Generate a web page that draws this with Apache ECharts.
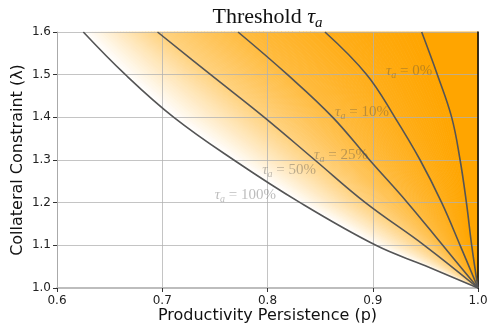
<!DOCTYPE html>
<html>
<head>
<meta charset="utf-8">
<script src="https://cdn.jsdelivr.net/npm/echarts@6/dist/echarts.min.js"></script>
<style>
  html, body { margin: 0; padding: 0; background: #fff; }
  #chart { width: 490px; height: 326px; }
</style>
</head>
<body>
<div id="chart"></div>
<script>
// ---- data ----
const xTicks = [0.6, 0.7, 0.8, 0.9, 1.0];
const yTicks = [1.0, 1.1, 1.2, 1.3, 1.4, 1.5, 1.6];

const tau100 = [[0.625,1.6],[0.665,1.5],[0.711,1.4],[0.768,1.3],[0.831,1.2],[0.903,1.1],[0.95,1.052],[1.0,1.0]];
const tau50  = [[0.6955,1.6],[0.746,1.5],[0.797,1.4],[0.845,1.3],[0.893,1.2],[0.949,1.1],[1.0,1.0]];
const tau25  = [[0.772,1.6],[0.819,1.5],[0.862,1.4],[0.897,1.3],[0.933,1.2],[0.9665,1.1],[1.0,1.0]];
const tau10  = [[0.8546,1.6],[0.8943,1.5],[0.921,1.4],[0.945,1.3],[0.9655,1.2],[0.983,1.1],[1.0,1.0]];
const tau0   = [[0.9465,1.6],[0.9614,1.5],[0.975,1.4],[0.983,1.3],[0.989,1.2],[0.994,1.1],[1.0,1.0]];
const tauValues = [1.0, 0.5, 0.25, 0.10, 0.0];

const labelTexts = ['0%', '10%', '25%', '50%', '100%'];
const labelX = [0.9345, 0.8898, 0.8698, 0.8205, 0.779];
const labelY = [1.514, 1.417, 1.316, 1.281, 1.223];

// ---- chart ----
const curves = [tau100, tau50, tau25, tau10, tau0];
const xMin = xTicks[0], xMax = xTicks[xTicks.length - 1];
const yMin = yTicks[0], yMax = yTicks[yTicks.length - 1];
const xInt = +(xTicks[1] - xTicks[0]).toFixed(6);
const yInt = +(yTicks[1] - yTicks[0]).toFixed(6);

const SANS = 'DejaVu Sans';
const SERIF = 'Liberation Serif';
const curveColor = '#555555';
const labelColor = 'rgba(70,70,70,0.45)';

// colour for a threshold value: white at 100%, orange (#FFA500) at 0%
function tauColor(tau) {
  const f = Math.max(0, Math.min(1, 1 - tau));
  return 'rgb(255,' + Math.round(255 - 90 * f) + ',' + Math.round(255 - 255 * f) + ')';
}

const chart = echarts.init(document.getElementById('chart'), null, { renderer: 'canvas' });

function curve(data) {
  return {
    type: 'line', data: data, showSymbol: false, smooth: 0.4,
    lineStyle: { color: curveColor, width: 1.6 }, z: 5, silent: true
  };
}

const labelRich = {
  t: { fontFamily: SERIF, fontStyle: 'italic', fontSize: 15, lineHeight: 15, verticalAlign: 'top', color: labelColor },
  s: { fontFamily: SERIF, fontStyle: 'italic', fontSize: 10, lineHeight: 10, verticalAlign: 'top', padding: [7, 0, 0, 0], color: labelColor },
  e: { fontFamily: SERIF, fontSize: 15, lineHeight: 15, verticalAlign: 'top', color: labelColor }
};

const axisCommon = {
  type: 'value',
  z: 3,
  splitLine: { show: true, lineStyle: { color: 'rgba(176,176,176,0.75)', width: 1 } },
  axisTick: { show: true, length: 4, lineStyle: { color: '#333', width: 1 } },
  axisLabel: { fontFamily: SANS, fontSize: 12, color: '#222', formatter: v => v.toFixed(1) },
  nameLocation: 'middle',
  nameMoveOverlap: false,
  nameTextStyle: { fontFamily: SANS, fontSize: 16, color: '#111' }
};

function renderFill(params, api) {
  // points of every curve at the common y levels
  const levels = yTicks.slice().reverse();
  const pix = curves.map(c => levels.map(lv => {
    const p = c.find(q => Math.abs(q[1] - lv) < 1e-9);
    return api.coord(p);
  }));
  const children = [];
  const K = 24;
  for (let i = 0; i < pix.length - 1; i++) {
    const L = pix[i], R = pix[i + 1];
    for (let j = 0; j < K; j++) {
      const t0 = j / K, t1 = (j + 1) / K;
      const left = L.map((p, n) => [p[0] + (R[n][0] - p[0]) * t0, p[1] + (R[n][1] - p[1]) * t0]);
      const right = L.map((p, n) => [p[0] + (R[n][0] - p[0]) * t1, p[1] + (R[n][1] - p[1]) * t1]);
      const tau = tauValues[i] + (tauValues[i + 1] - tauValues[i]) * (t0 + t1) / 2;
      const col = tauColor(tau);
      children.push({
        type: 'polygon', shape: { points: left.concat(right.reverse()) },
        style: { fill: col, stroke: col, lineWidth: 0.8 }
      });
    }
  }
  // right of the 0% curve: full orange
  const last = pix[pix.length - 1];
  const edge = levels.map(lv => api.coord([xMax, lv]));
  const col = tauColor(0);
  children.push({
    type: 'polygon', shape: { points: last.concat(edge.reverse()) },
    style: { fill: col, stroke: col, lineWidth: 0.8 }
  });
  return { type: 'group', children: children };
}

chart.setOption({
  animation: false,
  backgroundColor: '#fff',
  grid: { left: 57, right: 12, top: 32, bottom: 38, containLabel: false, outerBoundsMode: 'none' },
  graphic: [{
    type: 'text', x: 267.5, y: 17, z: 10,
    style: {
      text: '{n|Threshold }{t|τ}{s|a}',
      align: 'center', verticalAlign: 'middle',
      rich: {
        n: { fontFamily: SERIF, fontSize: 22, lineHeight: 22, verticalAlign: 'top', fill: '#111' },
        t: { fontFamily: SERIF, fontStyle: 'italic', fontSize: 22, lineHeight: 22, verticalAlign: 'top', fill: '#111' },
        s: { fontFamily: SERIF, fontStyle: 'italic', fontSize: 15, lineHeight: 15, verticalAlign: 'top', padding: [10, 0, 0, 0], fill: '#111' }
      }
    }
  }],
  xAxis: Object.assign({}, axisCommon, {
    min: xMin, max: xMax, interval: xInt,
    name: 'Productivity Persistence (p)', nameGap: 20,
    axisLine: { show: true, onZero: false, lineStyle: { color: '#bdbdbd', width: 2 } },
    axisLabel: Object.assign({}, axisCommon.axisLabel, { margin: 7 })
  }),
  yAxis: [
    Object.assign({}, axisCommon, {
      min: yMin, max: yMax, interval: yInt,
      name: 'Collateral Constraint (λ)', nameGap: 31,
      axisLine: { show: true, onZero: false, lineStyle: { color: '#aaa', width: 1 } },
      axisLabel: Object.assign({}, axisCommon.axisLabel, { margin: 6 })
    }),
    {
      type: 'value', position: 'right', min: yMin, max: yMax, interval: yInt, z: 4,
      axisLine: { show: true, lineStyle: { color: '#000', width: 1.5 } },
      axisTick: { show: false }, axisLabel: { show: false }, splitLine: { show: false }
    }
  ],
  series: [
    {
      type: 'custom', silent: true, z: 2,
      data: [[xMax, yMax]],
      encode: { x: 0, y: 1 },
      renderItem: renderFill
    },
    curve(tau100), curve(tau50), curve(tau25), curve(tau10), curve(tau0),
    {
      type: 'scatter', symbolSize: 0, z: 6, silent: true,
      data: labelX.map((x, i) => ({ value: [x, labelY[i]], name: labelTexts[i] })),
      label: {
        show: true, position: 'inside', offset: [0, 2],
        formatter: p => '{t|τ}{s|a}{e| = ' + p.name + '}',
        rich: labelRich
      }
    }
  ]
});
</script>
</body>
</html>
